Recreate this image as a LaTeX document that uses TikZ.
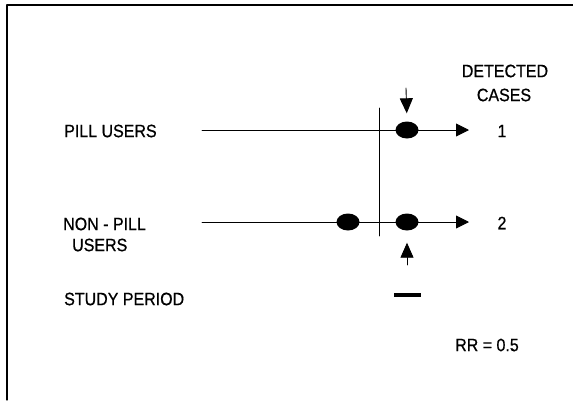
\documentclass[tikz,border=0pt]{standalone}
\usepackage{fontspec}
\setmainfont{Liberation Sans}[FakeBold=0.7]
\usepackage{tikz}
\usetikzlibrary{arrows.meta,shapes.geometric}
\tikzset{
  every picture/.style={
    line join=round,
    line cap=round,
  },
  lbl/.style={inner sep=0pt, yscale=1.12, transform shape, font=\fontsize{16}{19}\selectfont},
  case/.style={ellipse, fill=black, minimum width=23pt, minimum height=17pt, inner sep=0pt},
  timeline/.style={line width=0.9pt, -{Triangle[length=13pt,width=13pt]}},
  pointer/.style={line width=0.9pt, -{Triangle[length=15pt,width=13pt]}},
}

\begin{document}
\begin{tikzpicture}[x=1pt,y=-1pt]
\useasboundingbox (0,0) rectangle (573,400);
% frame (top and left only)
\draw[line width=1.3pt] (573,5) -- (7,5) -- (7,400);

% headings and row labels
\node[lbl] (det) at (505,71) {DETECTED};
\node[lbl] (cas) at (504,95) {CASES};
\node[lbl, anchor=west] (pill) at (64,131) {PILL USERS};
\node[lbl, anchor=west] (non) at (63,224) {NON - PILL};
\node[lbl, anchor=west] (nonb) at (72,245) {USERS};
\node[lbl, anchor=west] (study) at (64,299) {STUDY PERIOD};
\node[lbl, anchor=west] (rr) at (455,345) {RR = 0.5};

% time lines
\coordinate (s1) at (202,130);
\coordinate (t1) at (469,130);
\coordinate (s2) at (202,222);
\coordinate (t2) at (469,222);
\draw[timeline] (s1) -- (t1);
\draw[timeline] (s2) -- (t2);
\node[lbl] (n1) at (502,131) {1};
\node[lbl] (n2) at (502,223) {2};

% start of the study
\coordinate (vtop) at (379,108);
\coordinate (vbot) at (379,236);
\draw[line width=0.7pt] (vtop) -- (vbot);

% cases
\node[case] (c1) at (407,130) {};
\node[case] (c2) at (348,222) {};
\node[case] (c3) at (407,222) {};

% detection markers
\coordinate (dn) at (406,88);
\coordinate (up) at (407,265);
\draw[pointer, shorten >=8pt] (dn) -- (c1.north);
\draw[pointer, shorten >=12pt] (up) -- (c3.south);

% study period
\coordinate (ps) at (394,295);
\coordinate (pe) at (421,295);
\draw[line width=4pt, line cap=butt] (ps) -- (pe);
\end{tikzpicture}
\end{document}
